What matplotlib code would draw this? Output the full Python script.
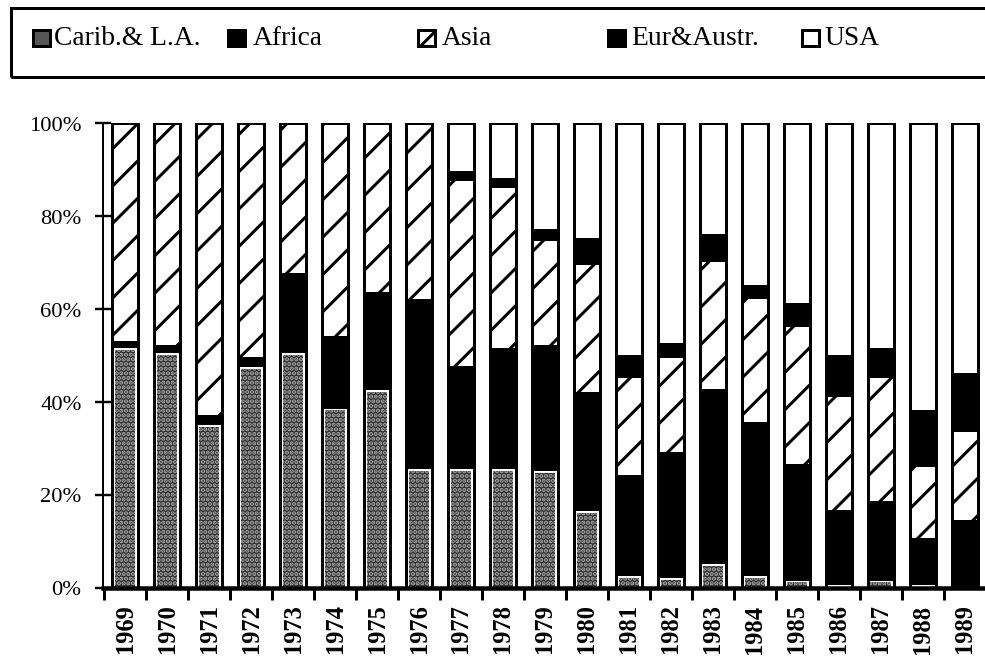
# -*- coding: utf-8 -*-
"""
Regional shares (%) by year, 1969-1989 — 100 % stacked bars in the
black-and-white print style (stipple, solid, hatch, solid, blank).
"""
import matplotlib
matplotlib.use('Agg')
import matplotlib.pyplot as plt
from matplotlib.patches import Rectangle
import numpy as np

# ── data (percent of each year's total) ─────────────────────────────────────
years  = [str(y) for y in range(1969, 1990)]
carib  = [52, 51, 35.5, 48, 51, 39, 43, 26, 26, 26, 25.5,
          17, 3, 2.5, 5.5, 3, 2, 1, 2, 1, 0]
africa = [1, 1, 1.5, 1.5, 16.5, 15, 20.5, 36, 21.5, 25.5, 26.5,
          25, 21, 26.5, 37, 32.5, 24.5, 15.5, 16.5, 9.5, 14.5]
asia   = [47, 48, 63, 50.5, 32.5, 46, 36.5, 38, 40.5, 35, 23,
          28, 21.5, 21, 28, 27, 30, 25, 27, 16, 19.5]
eur    = [0, 0, 0, 0, 0, 0, 0, 0, 1.5, 1.5, 2,
          5, 4.5, 2.5, 5.5, 2.5, 4.5, 8.5, 6, 11.5, 12]
usa    = [0, 0, 0, 0, 0, 0, 0, 0, 10.5, 12, 23,
          25, 50, 47.5, 24, 35, 39, 50, 48.5, 62, 54]

labels = ['Carib.& L.A.', 'Africa', 'Asia', 'Eur&Austr.', 'USA']

# canvas size in pixels; the dpi also sets the hatch spacing (~dpi / 4 px)
W, H, DPI = 985, 658, 112
SERIF = ['Liberation Serif', 'DejaVu Serif']


def pt(px):
    """Pixel length -> points at the figure dpi."""
    return px * 72.0 / DPI


def fx(px):
    return px / W


def fy(py):
    return 1 - py / H


plt.rcParams['font.family'] = SERIF
plt.rcParams['hatch.linewidth'] = pt(3.0)

fig = plt.figure(figsize=((W + 0.5) / DPI, (H + 0.5) / DPI), dpi=DPI)
fig.patch.set_facecolor('white')

ax = fig.add_axes([fx(103.4), fy(588), 1 - fx(103.4), fy(123.5) - fy(588)])

x = np.arange(len(years))
bw = 0.62
edge = dict(edgecolor='black', linewidth=pt(3.0))

cum = np.zeros(len(years))
# Carib.& L.A. — outlined box with a dark stipple inside
ax.bar(x, carib, bw, bottom=cum, facecolor='white', **edge, zorder=2)
ax.bar(x, np.maximum(np.array(carib) - 0.8, 0), bw * 0.78, bottom=cum,
       facecolor='#2c2c2c', edgecolor='#a8a8a8', hatch='....',
       linewidth=0, zorder=3)
cum += carib
# Africa — solid black
ax.bar(x, africa, bw, bottom=cum, facecolor='black', **edge, zorder=2)
cum += africa
# Asia — diagonal hatch
ax.bar(x, asia, bw, bottom=cum, facecolor='white', hatch='/', **edge, zorder=2)
cum += asia
# Eur&Austr. — solid black
ax.bar(x, eur, bw, bottom=cum, facecolor='black', **edge, zorder=2)
cum += eur
# USA — blank
ax.bar(x, usa, bw, bottom=cum, facecolor='white', **edge, zorder=2)

ax.set_xlim(-0.52, (W - 125.3) / 42.15)
ax.set_ylim(0, 100)

for s in ('top', 'right'):
    ax.spines[s].set_visible(False)
ax.spines['left'].set_linewidth(pt(2.0))
ax.spines['bottom'].set_linewidth(pt(4.5))
ax.spines['bottom'].set_zorder(4)

# y axis: 0 %..100 %
ax.set_yticks(np.arange(0, 101, 20))
ax.set_yticklabels(['%d%%' % v for v in range(0, 101, 20)])
ax.tick_params(axis='y', direction='inout', length=pt(16), width=pt(2.4),
               pad=pt(14), labelsize=pt(22.5))

# x axis: tick marks between bars, year labels under each bar
ax.set_xticks(np.arange(-0.5, len(years), 1.0))
ax.set_xticklabels([])
ax.tick_params(axis='x', which='major', direction='out', length=pt(12),
               width=pt(3.0))
ax.set_xticks(x, minor=True)
ax.set_xticklabels(years, minor=True, rotation=90, fontweight='bold')
ax.tick_params(axis='x', which='minor', length=0, pad=pt(16),
               labelsize=pt(24.5))

# ── legend strip across the top ─────────────────────────────────────────────
fig.add_artist(Rectangle((fx(11), fy(77)), fx(990) - fx(11), fy(8) - fy(77),
                         transform=fig.transFigure, facecolor='none',
                         edgecolor='black', linewidth=pt(3.0)))

marker_x = [33, 228, 418, 608, 802]
text_x   = [54, 253, 442, 631, 824]
styles = [dict(facecolor='#555555'),
          dict(facecolor='black'),
          dict(facecolor='white', hatch='//'),
          dict(facecolor='black'),
          dict(facecolor='white')]
for mx, tx, lab, st in zip(marker_x, text_x, labels, styles):
    fig.add_artist(Rectangle((fx(mx), fy(46)), fx(17), fy(30) - fy(46),
                             transform=fig.transFigure, edgecolor='black',
                             linewidth=pt(3.0), **st))
    fig.text(fx(tx), fy(38.5), lab, fontsize=pt(27.5), va='center', ha='left')

fig.savefig('out.png', dpi=DPI, facecolor='white')
